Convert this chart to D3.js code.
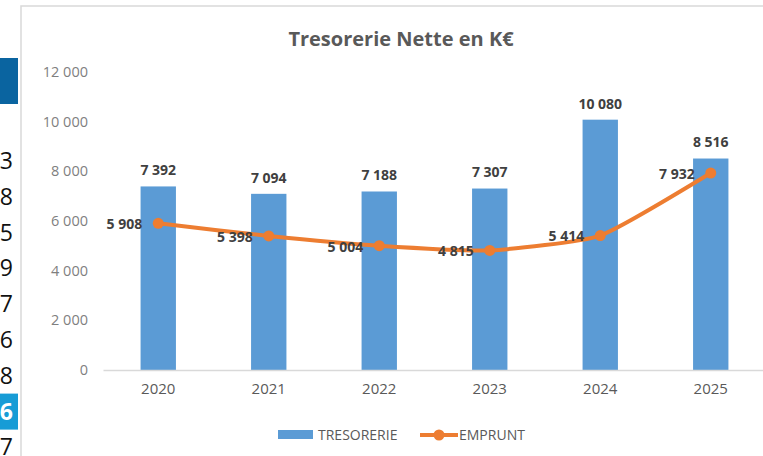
<!DOCTYPE html>
<html>
<head>
<meta charset="utf-8">
<script src="https://cdn.jsdelivr.net/npm/d3@7"></script>
<style>
  body { margin: 0; background: #fff; }
  svg { display: block; font-family: "Open Sans", sans-serif; }
</style>
</head>
<body>
<svg id="chart" width="763" height="456"></svg>
<script>
// chart data
const years = ["2020", "2021", "2022", "2023", "2024", "2025"];
const tresorerie = [7392, 7094, 7188, 7307, 10080, 8516];
const emprunt = [5908, 5398, 5004, 4815, 5414, 7932];
const yTicks = [0, 2000, 4000, 6000, 8000, 10000, 12000];
const title = "Tresorerie Nette en K€";
// spreadsheet digits peeking out on the left
const sheetDigits = ["3", "8", "5", "9", "7", "6", "8", "6", "7"];
const sheetSelected = 7;

const fr = d3.formatLocale({ decimal: ",", thousands: " ", grouping: [3], currency: ["", " €"] });
const fmt = fr.format(",d");

const svg = d3.select("#chart");

// background spreadsheet bits
svg.append("rect").attr("x", 0).attr("y", 58).attr("width", 18).attr("height", 46).attr("fill", "#0a64a0");
const rowY = d3.scaleLinear().domain([0, 1]).range([161, 196.8]);
svg.append("rect").attr("x", 0).attr("y", rowY(sheetSelected) - 18).attr("width", 18).attr("height", 36)
    .attr("fill", "#179cd6");
svg.selectAll("text.sheet")
    .data(sheetDigits)
    .enter().append("text")
    .attr("class", "sheet")
    .attr("x", 13)
    .attr("y", (d, i) => rowY(i))
    .attr("dy", "0.35em")
    .attr("text-anchor", "end")
    .attr("font-size", 23)
    .attr("fill", (d, i) => i === sheetSelected ? "#fff" : "#111")
    .attr("font-weight", (d, i) => i === sheetSelected ? "bold" : "normal")
    .text(d => d);

// chart frame
svg.append("rect").attr("x", 21).attr("y", 6).attr("width", 780).attr("height", 470)
    .attr("fill", "#fff").attr("stroke", "#d9d9d9").attr("stroke-width", 1.5);

svg.append("text")
    .attr("x", 401).attr("y", 39).attr("dy", "0.35em")
    .attr("text-anchor", "middle")
    .attr("font-size", 20).attr("font-weight", "bold").attr("fill", "#595959")
    .text(title);

const x = d3.scaleBand().domain(years).range([103, 766]).paddingInner(0.68).paddingOuter(0.34);
const y = d3.scaleLinear().domain([0, 12000]).range([370, 72]);

// y labels
svg.append("g")
    .attr("transform", "translate(92,0)")
    .call(d3.axisLeft(y).tickValues(yTicks).tickFormat(fmt).tickSize(0).tickPadding(4))
    .call(g => g.select(".domain").remove())
    .call(g => g.selectAll("text").attr("font-size", 14.5).attr("fill", "#7f7f7f")
        .attr("font-family", "Open Sans"));

// bars
svg.selectAll("rect.bar")
    .data(tresorerie)
    .enter().append("rect")
    .attr("class", "bar")
    .attr("x", (d, i) => x(years[i]))
    .attr("width", x.bandwidth())
    .attr("y", d => y(d))
    .attr("height", d => y(0) - y(d))
    .attr("fill", "#5b9bd5");

// x axis
svg.append("g")
    .attr("transform", "translate(0,370)")
    .call(d3.axisBottom(x).tickSize(0).tickPadding(13))
    .call(g => g.select(".domain").attr("stroke", "#d9d9d9").attr("stroke-width", 1.5))
    .call(g => g.selectAll("text").attr("font-size", 15).attr("fill", "#595959")
        .attr("font-family", "Open Sans"));

const cx = (d, i) => x(years[i]) + x.bandwidth() / 2;

// bar labels
svg.selectAll("text.barlabel")
    .data(tresorerie)
    .enter().append("text")
    .attr("class", "barlabel")
    .attr("x", cx)
    .attr("y", d => y(d) - 16)
    .attr("dy", "0.35em")
    .attr("text-anchor", "middle")
    .attr("font-size", 14).attr("font-weight", "bold").attr("fill", "#404040")
    .text(d => fmt(d));

// emprunt line
const line = d3.line()
    .x(cx)
    .y(d => y(d))
    .curve(d3.curveCardinal.tension(0.5));

svg.append("path")
    .datum(emprunt)
    .attr("d", line)
    .attr("fill", "none")
    .attr("stroke", "#ed7d31")
    .attr("stroke-width", 4)
    .attr("stroke-linecap", "round");

svg.selectAll("circle.pt")
    .data(emprunt)
    .enter().append("circle")
    .attr("class", "pt")
    .attr("cx", cx)
    .attr("cy", d => y(d))
    .attr("r", 5.5)
    .attr("fill", "#ed7d31");

svg.selectAll("text.linelabel")
    .data(emprunt)
    .enter().append("text")
    .attr("class", "linelabel")
    .attr("x", (d, i) => cx(d, i) - 16)
    .attr("y", d => y(d) + 1)
    .attr("dy", "0.35em")
    .attr("text-anchor", "end")
    .attr("font-size", 14).attr("font-weight", "bold").attr("fill", "#404040")
    .text(d => fmt(d));

// legend
const legend = svg.append("g").attr("font-size", 14).attr("fill", "#595959");
legend.append("rect").attr("x", 278).attr("y", 430).attr("width", 35).attr("height", 9).attr("fill", "#5b9bd5");
legend.append("text").attr("x", 318).attr("y", 435).attr("dy", "0.35em").text("TRESORERIE");
legend.append("line").attr("x1", 420).attr("x2", 458).attr("y1", 435).attr("y2", 435)
    .attr("stroke", "#ed7d31").attr("stroke-width", 4);
legend.append("circle").attr("cx", 439).attr("cy", 435).attr("r", 5.5).attr("fill", "#ed7d31");
legend.append("text").attr("x", 459).attr("y", 435).attr("dy", "0.35em").text("EMPRUNT");
</script>
</body>
</html>
